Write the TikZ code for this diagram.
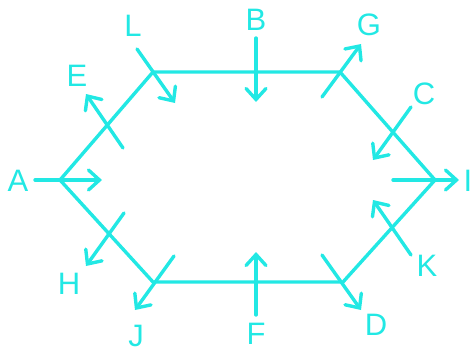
\documentclass[tikz,border=0pt]{standalone}
\usepackage{fontspec}
\setmainfont{Liberation Sans}
\usetikzlibrary{arrows.meta}
\definecolor{cy}{RGB}{34,232,228}
\begin{document}
\begin{tikzpicture}[x=1pt,y=-1pt,
  edge/.style={draw=cy,line width=3.4pt,line cap=round,line join=miter},
  arr/.style={draw=cy,line width=3.4pt,line cap=round,-{Straight Barb[length=11pt,width=20pt,line cap=round]}},
  lab/.style={text=cy,font=\fontsize{31}{31}\selectfont,inner sep=0pt}]
\useasboundingbox (0,0) rectangle (473,353);
% hexagon vertices
\coordinate (vA) at (60,180);
\coordinate (vTL) at (153,72);
\coordinate (vTR) at (340,72);
\coordinate (vR) at (435,180);
\coordinate (vBR) at (343,282);
\coordinate (vBL) at (153,282);
\draw[edge] (vA) -- (vTL) -- (vTR) -- (vR) -- (vBR) -- (vBL) -- cycle;
% arrow ends
\coordinate (a1) at (35,180);   \coordinate (a2) at (102,180);
\coordinate (e1) at (123,148);  \coordinate (e2) at (86,94);
\coordinate (l1) at (137,49);   \coordinate (l2) at (175,103);
\coordinate (b1) at (256,38);   \coordinate (b2) at (256,102);
\coordinate (g1) at (322,97);   \coordinate (g2) at (361,44);
\coordinate (c1) at (411,107);  \coordinate (c2) at (373,160);
\coordinate (i1) at (393,180);  \coordinate (i2) at (459,180);
\coordinate (k1) at (411,255);  \coordinate (k2) at (373,200);
\coordinate (d1) at (322,255);  \coordinate (d2) at (361,310);
\coordinate (f1) at (256,315);  \coordinate (f2) at (256,252);
\coordinate (j1) at (174,256);  \coordinate (j2) at (135,310);
\coordinate (h1) at (124,213);  \coordinate (h2) at (86,266);
\draw[arr] (a1) -- (a2);
\draw[arr] (e1) -- (e2);
\draw[arr] (l1) -- (l2);
\draw[arr] (b1) -- (b2);
\draw[arr] (g1) -- (g2);
\draw[arr] (c1) -- (c2);
\draw[arr] (i1) -- (i2);
\draw[arr] (k1) -- (k2);
\draw[arr] (d1) -- (d2);
\draw[arr] (f1) -- (f2);
\draw[arr] (j1) -- (j2);
\draw[arr] (h1) -- (h2);
% labels
\node[lab] (A) at (18,181) {A};
\node[lab] (E) at (77,76) {E};
\node[lab] (L) at (133,26) {L};
\node[lab] (B) at (256,20) {B};
\node[lab] (G) at (369,25) {G};
\node[lab] (C) at (424,94) {C};
\node[lab] (I) at (468,181) {I};
\node[lab] (K) at (427,266) {K};
\node[lab] (D) at (376,325) {D};
\node[lab] (F) at (256,334) {F};
\node[lab] (J) at (136,336) {J};
\node[lab] (H) at (69,284) {H};
\end{tikzpicture}
\end{document}
